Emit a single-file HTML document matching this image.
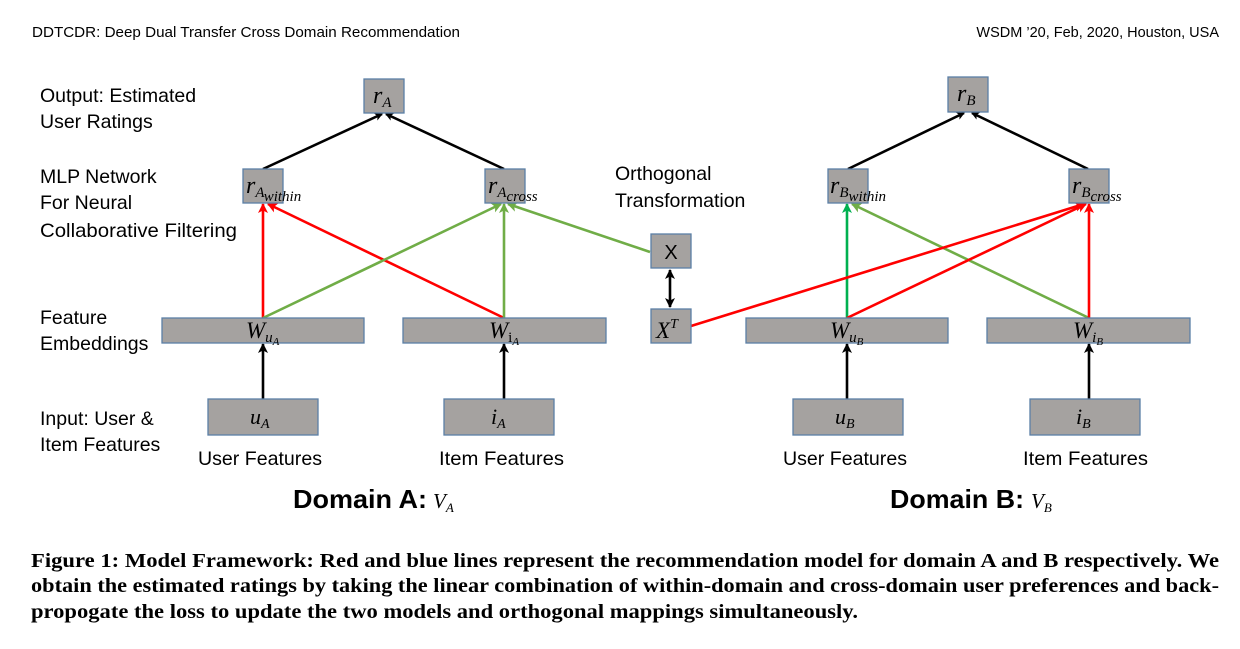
<!DOCTYPE html>
<html><head><meta charset="utf-8"><style>
html,body{margin:0;padding:0;background:#fff;}
svg{display:block;}
.lbl{font-family:"Liberation Sans",sans-serif;font-size:19.5px;fill:#000;}
.m{font-family:"Liberation Serif",serif;font-style:italic;fill:#000;}
.cap{font-family:"Liberation Serif",serif;font-weight:bold;font-size:19.5px;fill:#000;}
.box{fill:#a5a2a0;stroke:#5b7fa6;stroke-width:1.3;}
</style></head><body>
<svg width="1240" height="649" viewBox="0 0 1240 649" xmlns="http://www.w3.org/2000/svg">
<defs>
<marker id="ak" markerWidth="8" markerHeight="8" refX="7" refY="4" orient="auto" markerUnits="userSpaceOnUse"><path d="M0,0 L8,4 L0,8 L2,4z" fill="#000"/></marker>
<marker id="ar" markerWidth="10" markerHeight="10" refX="9" refY="5" orient="auto" markerUnits="userSpaceOnUse"><path d="M0,0 L10,5 L0,10 L2.5,5z" fill="#ff0000"/></marker>
<marker id="ag" markerWidth="10" markerHeight="10" refX="9" refY="5" orient="auto" markerUnits="userSpaceOnUse"><path d="M0,0 L10,5 L0,10 L2.5,5z" fill="#70ad47"/></marker>
<marker id="ag2" markerWidth="10" markerHeight="10" refX="9" refY="5" orient="auto" markerUnits="userSpaceOnUse"><path d="M0,0 L10,5 L0,10 L2.5,5z" fill="#00b050"/></marker>
<marker id="aks" markerWidth="10" markerHeight="10" refX="9" refY="5" orient="auto-start-reverse" markerUnits="userSpaceOnUse"><path d="M0,0 L10,5 L0,10 L2.5,5z" fill="#000"/></marker>
</defs>

<text x="32" y="37" font-family="Liberation Sans,sans-serif" font-size="14.5" textLength="428" lengthAdjust="spacingAndGlyphs">DDTCDR: Deep Dual Transfer Cross Domain Recommendation</text>
<text x="1219" y="37" font-family="Liberation Sans,sans-serif" font-size="14.5" text-anchor="end">WSDM ’20, Feb, 2020, Houston, USA</text>

<text class="lbl" x="40" y="102">Output: Estimated</text>
<text class="lbl" x="40" y="128">User Ratings</text>
<text class="lbl" x="40" y="183">MLP Network</text>
<text class="lbl" x="40" y="209">For Neural</text>
<text class="lbl" x="40" y="237" textLength="197" lengthAdjust="spacingAndGlyphs">Collaborative Filtering</text>
<text class="lbl" x="40" y="324">Feature</text>
<text class="lbl" x="40" y="350">Embeddings</text>
<text class="lbl" x="40" y="425">Input: User &amp;</text>
<text class="lbl" x="40" y="451">Item Features</text>
<text class="lbl" x="615" y="180">Orthogonal</text>
<text class="lbl" x="615" y="207">Transformation</text>

<g stroke-width="2.6" fill="none">
<line x1="263" y1="169" x2="382" y2="114" stroke="#000" marker-end="url(#ak)"/>
<line x1="504" y1="169" x2="386" y2="114" stroke="#000" marker-end="url(#ak)"/>
<line x1="848" y1="169" x2="964" y2="113" stroke="#000" marker-end="url(#ak)"/>
<line x1="1088" y1="169" x2="972" y2="113" stroke="#000" marker-end="url(#ak)"/>

<line x1="263" y1="318" x2="263" y2="204" stroke="#ff0000" marker-end="url(#ar)"/>
<line x1="504" y1="318" x2="268" y2="204" stroke="#ff0000" marker-end="url(#ar)"/>
<line x1="263" y1="318" x2="501" y2="204" stroke="#70ad47" marker-end="url(#ag)"/>
<line x1="504" y1="318" x2="504" y2="204" stroke="#70ad47" marker-end="url(#ag)"/>
<line x1="650" y1="252" x2="508" y2="204" stroke="#70ad47" marker-end="url(#ag)"/>

<line x1="847" y1="318" x2="847" y2="204" stroke="#00b050" marker-end="url(#ag2)"/>
<line x1="1089" y1="318" x2="852" y2="204" stroke="#70ad47" marker-end="url(#ag)"/>
<line x1="691" y1="326" x2="1084" y2="204" stroke="#ff0000" marker-end="url(#ar)"/>
<line x1="847" y1="318" x2="1086" y2="204" stroke="#ff0000" marker-end="url(#ar)"/>
<line x1="1089" y1="318" x2="1089" y2="204" stroke="#ff0000" marker-end="url(#ar)"/>

<line x1="670" y1="270" x2="670" y2="307" stroke="#000" marker-start="url(#aks)" marker-end="url(#aks)"/>

<line x1="263" y1="399" x2="263" y2="344" stroke="#000" marker-end="url(#aks)"/>
<line x1="504" y1="399" x2="504" y2="344" stroke="#000" marker-end="url(#aks)"/>
<line x1="847" y1="399" x2="847" y2="344" stroke="#000" marker-end="url(#aks)"/>
<line x1="1089" y1="399" x2="1089" y2="344" stroke="#000" marker-end="url(#aks)"/>
</g>

<rect class="box" x="364" y="79" width="40" height="34"/>
<rect class="box" x="948" y="77" width="40" height="35"/>
<rect class="box" x="243" y="169" width="40" height="34"/>
<rect class="box" x="485" y="169" width="40" height="34"/>
<rect class="box" x="828" y="169" width="40" height="34"/>
<rect class="box" x="1069" y="169" width="40" height="34"/>
<rect class="box" x="651" y="234" width="40" height="34"/>
<rect class="box" x="651" y="309" width="40" height="34"/>
<rect class="box" x="162" y="318" width="202" height="25"/>
<rect class="box" x="403" y="318" width="203" height="25"/>
<rect class="box" x="746" y="318" width="202" height="25"/>
<rect class="box" x="987" y="318" width="203" height="25"/>
<rect class="box" x="208" y="399" width="110" height="36"/>
<rect class="box" x="444" y="399" width="110" height="36"/>
<rect class="box" x="793" y="399" width="110" height="36"/>
<rect class="box" x="1030" y="399" width="110" height="36"/>

<text class="m" x="373" y="103" font-size="24">r<tspan font-size="15" dy="4">A</tspan></text>
<text class="m" x="957" y="101" font-size="24">r<tspan font-size="15" dy="4">B</tspan></text>
<text class="m" x="246" y="193" font-size="24">r<tspan font-size="15" dy="4">A</tspan><tspan font-size="15" dy="4">within</tspan></text>
<text class="m" x="488" y="193" font-size="24">r<tspan font-size="15" dy="4">A</tspan><tspan font-size="15" dy="4">cross</tspan></text>
<text class="m" x="830" y="193" font-size="24">r<tspan font-size="15" dy="4">B</tspan><tspan font-size="15" dy="4">within</tspan></text>
<text class="m" x="1072" y="193" font-size="24">r<tspan font-size="15" dy="4">B</tspan><tspan font-size="15" dy="4">cross</tspan></text>
<text x="671" y="259" font-family="Liberation Sans,sans-serif" font-size="20" text-anchor="middle">X</text>
<text class="m" x="656" y="338" font-size="23">X<tspan font-size="14" dy="-10">T</tspan></text>
<text class="m" x="246" y="338" font-size="23">W<tspan font-size="15" dy="4">u</tspan><tspan font-size="11" dy="3">A</tspan></text>
<text class="m" x="489" y="338" font-size="23">W<tspan font-size="15" dy="4" font-style="normal">i</tspan><tspan font-size="11" dy="3">A</tspan></text>
<text class="m" x="830" y="338" font-size="23">W<tspan font-size="15" dy="4">u</tspan><tspan font-size="11" dy="3">B</tspan></text>
<text class="m" x="1073" y="338" font-size="23">W<tspan font-size="15" dy="4">i</tspan><tspan font-size="11" dy="3">B</tspan></text>
<text class="m" x="250" y="424" font-size="22">u<tspan font-size="14" dy="4">A</tspan></text>
<text class="m" x="491" y="424" font-size="22">i<tspan font-size="14" dy="4">A</tspan></text>
<text class="m" x="835" y="424" font-size="22">u<tspan font-size="14" dy="4">B</tspan></text>
<text class="m" x="1076" y="424" font-size="22">i<tspan font-size="14" dy="4">B</tspan></text>

<text class="lbl" x="198" y="465" textLength="124" lengthAdjust="spacingAndGlyphs">User Features</text>
<text class="lbl" x="439" y="465" textLength="125" lengthAdjust="spacingAndGlyphs">Item Features</text>
<text class="lbl" x="783" y="465" textLength="124" lengthAdjust="spacingAndGlyphs">User Features</text>
<text class="lbl" x="1023" y="465" textLength="125" lengthAdjust="spacingAndGlyphs">Item Features</text>

<text x="293" y="508" font-family="Liberation Sans,sans-serif" font-weight="bold" font-size="26" textLength="134" lengthAdjust="spacingAndGlyphs">Domain A:</text>
<text class="m" x="433" y="508" font-size="21">V<tspan font-size="13" dy="4">A</tspan></text>
<text x="890" y="508" font-family="Liberation Sans,sans-serif" font-weight="bold" font-size="26" textLength="134" lengthAdjust="spacingAndGlyphs">Domain B:</text>
<text class="m" x="1031" y="508" font-size="21">V<tspan font-size="13" dy="4">B</tspan></text>

<text class="cap" x="31" y="567" textLength="1188" lengthAdjust="spacingAndGlyphs">Figure 1: Model Framework: Red and blue lines represent the recommendation model for domain A and B respectively. We</text>
<text class="cap" x="31" y="592" textLength="1188" lengthAdjust="spacingAndGlyphs">obtain the estimated ratings by taking the linear combination of within-domain and cross-domain user preferences and back-</text>
<text class="cap" x="31" y="618" textLength="827" lengthAdjust="spacingAndGlyphs">propogate the loss to update the two models and orthogonal mappings simultaneously.</text>
</svg>
</body></html>
